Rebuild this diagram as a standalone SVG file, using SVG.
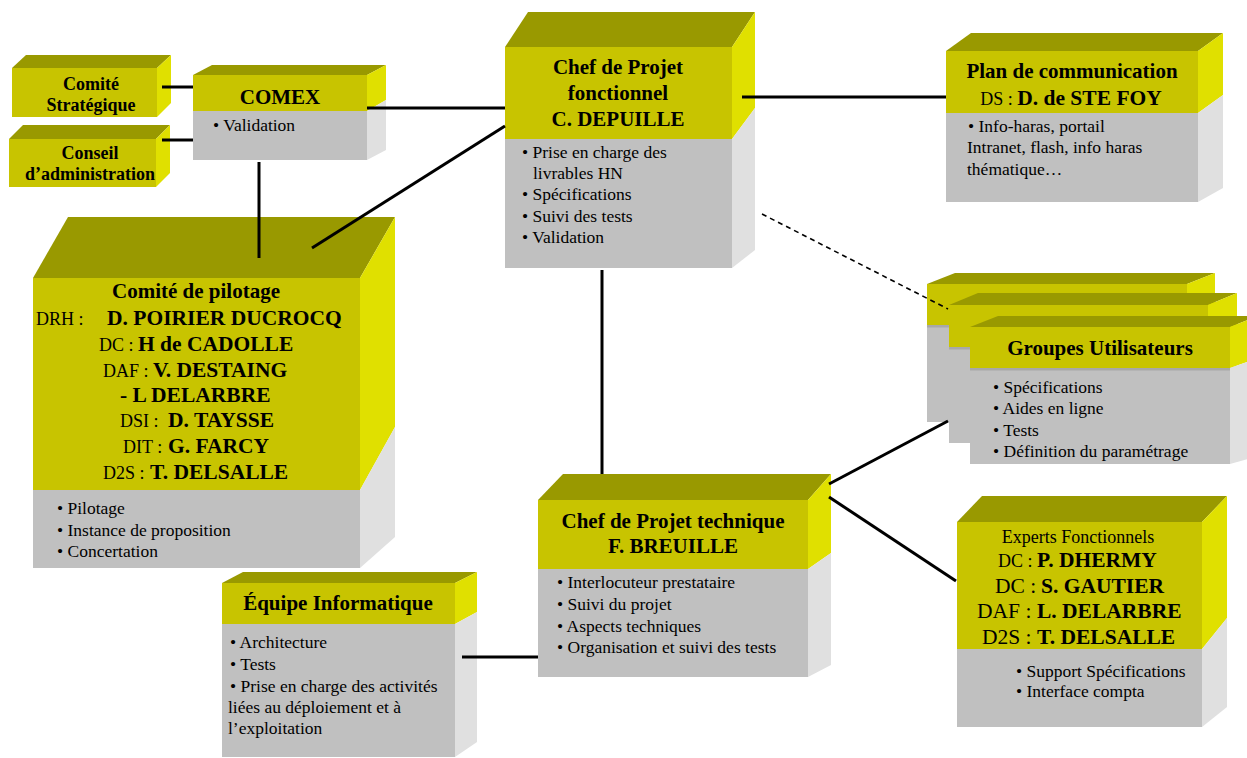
<svg xmlns="http://www.w3.org/2000/svg" width="1247" height="758" viewBox="0 0 1247 758">
  <style>
    .top { fill: #999900; }
    .fy { fill: #C8C400; }
    .sy { fill: #E0E000; }
    .fg { fill: #C0C0C0; }
    .sg { fill: #E0E0E0; }
    .shade { fill: #A8A8A8; }
    text { font-family: "Liberation Serif", "Times New Roman", serif; fill: #000; }
    .t18 { font-size: 18px; font-weight: bold; }
    .t21 { font-size: 21px; font-weight: bold; }
    .body { font-size: 17.5px; }
    .pre { font-size: 18px; font-weight: normal; }
    .pre2 { font-size: 21.5px; font-weight: normal; }
    .nm { font-size: 21.5px; font-weight: bold; }
    .mid { text-anchor: middle; }
    .link { stroke: #000; stroke-width: 3; fill: none; }
    .dash { stroke: #000; stroke-width: 1.6; stroke-dasharray: 5 4; fill: none; }
  </style>
  <rect width="1247" height="758" fill="#fff"/>

  <!-- Comité Stratégique -->
  <g id="comite-strategique">
    <polygon class="top" points="12,68 26,55 171,55 157,68"/>
    <polygon class="sy" points="157,68 171,55 171,103 157,117"/>
    <rect class="fy" x="12" y="68" width="145" height="49"/>
    <text class="t18 mid" x="91" y="90">Comité</text>
    <text class="t18 mid" x="91" y="111">Stratégique</text>
  </g>

  <!-- Conseil d'administration -->
  <g id="conseil-administration">
    <polygon class="top" points="9,139 23,125 170,125 156,139"/>
    <polygon class="sy" points="156,139 170,125 170,173 156,187"/>
    <rect class="fy" x="9" y="139" width="147" height="48"/>
    <text class="t18 mid" x="90" y="159">Conseil</text>
    <text class="t18 mid" x="90" y="180">d’administration</text>
  </g>

  <!-- COMEX -->
  <g id="comex">
    <polygon class="top" points="193,75 212,65 386,65 367,75"/>
    <polygon class="sy" points="367,75 386,65 386,100 367,111"/>
    <polygon class="sg" points="367,111 386,100 386,150 367,160"/>
    <rect class="fy" x="193" y="75" width="174" height="36"/>
    <rect class="fg" x="193" y="111" width="174" height="49"/>
    <text class="t21 mid" x="280" y="104">COMEX</text>
    <text class="body" x="213" y="131">• Validation</text>
  </g>

  <!-- Chef de Projet fonctionnel -->
  <g id="chef-projet-fonctionnel">
    <polygon class="top" points="505,47 528,12 755,12 732,47"/>
    <polygon class="sy" points="732,47 755,12 755,108 732,139"/>
    <polygon class="sg" points="732,139 755,108 755,250 732,268"/>
    <rect class="fy" x="505" y="47" width="227" height="92"/>
    <rect class="fg" x="505" y="139" width="227" height="129"/>
    <text class="t21 mid" x="618" y="74">Chef de Projet</text>
    <text class="t21 mid" x="618" y="100">fonctionnel</text>
    <text class="t21 mid" x="618" y="126">C. DEPUILLE</text>
    <text class="body" x="522" y="158">• Prise en charge des</text>
    <text class="body" x="533" y="179">livrables HN</text>
    <text class="body" x="522" y="200">• Spécifications</text>
    <text class="body" x="522" y="222">• Suivi des tests</text>
    <text class="body" x="522" y="243">• Validation</text>
  </g>

  <!-- Plan de communication -->
  <g id="plan-communication">
    <polygon class="top" points="946,51 971,33 1223,33 1198,51"/>
    <polygon class="sy" points="1198,51 1223,33 1223,95 1198,113"/>
    <polygon class="sg" points="1198,113 1223,95 1223,188 1198,202"/>
    <rect class="fy" x="946" y="51" width="252" height="62"/>
    <rect class="fg" x="946" y="113" width="252" height="89"/>
    <text class="t21 mid" x="1072" y="78">Plan de communication</text>
    <text class="mid" x="1071" y="105"><tspan class="pre">DS : </tspan><tspan class="nm">D. de STE FOY</tspan></text>
    <text class="body" x="968" y="132">• Info-haras, portail</text>
    <text class="body" x="967" y="153">Intranet, flash, info haras</text>
    <text class="body" x="967" y="175">thématique…</text>
  </g>

  <!-- Groupes Utilisateurs (stack of three) -->
  <g id="groupes-utilisateurs">
    <polygon class="top" points="927,284 955,273 1215,273 1187,284"/>
    <polygon class="sy" points="1187,284 1215,273 1215,315 1187,325"/>
    <polygon class="sg" points="1187,325 1215,315 1215,414 1187,422"/>
    <rect class="fy" x="927" y="284" width="260" height="41"/>
    <rect class="fg" x="927" y="325" width="260" height="97"/>
    <rect class="shade" x="927" y="325" width="260" height="2.5"/>

    <polygon class="top" points="949,305 978,293 1237,293 1208,305"/>
    <polygon class="sy" points="1208,305 1237,293 1237,337 1208,347"/>
    <polygon class="sg" points="1208,347 1237,337 1237,435 1208,443"/>
    <rect class="fy" x="949" y="305" width="259" height="42"/>
    <rect class="fg" x="949" y="347" width="259" height="96"/>
    <rect class="shade" x="949" y="347" width="259" height="2.5"/>

    <polygon class="top" points="970,327 998,316 1258,316 1230,327"/>
    <polygon class="sy" points="1230,327 1258,316 1258,358 1230,368"/>
    <polygon class="sg" points="1230,368 1258,358 1258,456 1230,464"/>
    <rect class="fy" x="970" y="327" width="260" height="41"/>
    <rect class="fg" x="970" y="368" width="260" height="96"/>
    <rect class="shade" x="970" y="368" width="260" height="2.5"/>
    <text class="t21 mid" x="1100" y="355">Groupes Utilisateurs</text>
    <text class="body" x="993" y="393">• Spécifications</text>
    <text class="body" x="993" y="414">• Aides en ligne</text>
    <text class="body" x="993" y="436">• Tests</text>
    <text class="body" x="993" y="457">• Définition du paramétrage</text>
  </g>

  <!-- Comité de pilotage -->
  <g id="comite-pilotage">
    <polygon class="top" points="33,278 68,217 395,217 360,278"/>
    <polygon class="sy" points="360,278 395,217 395,427 360,490"/>
    <polygon class="sg" points="360,490 395,427 395,537 360,568"/>
    <rect class="fy" x="33" y="278" width="327" height="212"/>
    <rect class="fg" x="33" y="490" width="327" height="78"/>
    <text class="t21 mid" x="196" y="298">Comité de pilotage</text>
    <text class="pre" x="36" y="325">DRH :</text><text class="nm" x="107" y="325">D. POIRIER DUCROCQ</text>
    <text class="pre" x="99" y="351">DC :</text><text class="nm" x="138" y="351">H de CADOLLE</text>
    <text class="pre" x="103" y="377">DAF :</text><text class="nm" x="153" y="377">V. DESTAING</text>
    <text class="nm" x="120" y="402">- L DELARBRE</text>
    <text class="pre" x="120" y="427">DSI :</text><text class="nm" x="168" y="427">D. TAYSSE</text>
    <text class="pre" x="123" y="453">DIT :</text><text class="nm" x="168" y="453">G. FARCY</text>
    <text class="pre" x="103" y="479">D2S :</text><text class="nm" x="150" y="479">T. DELSALLE</text>
    <text class="body" x="57" y="514">• Pilotage</text>
    <text class="body" x="57" y="536">• Instance de proposition</text>
    <text class="body" x="57" y="557">• Concertation</text>
  </g>

  <!-- Chef de Projet technique -->
  <g id="chef-projet-technique">
    <polygon class="top" points="538,500 563,474 831,474 808,500"/>
    <polygon class="sy" points="808,500 831,474 831,553 808,569"/>
    <polygon class="sg" points="808,569 831,553 831,665 808,677"/>
    <rect class="fy" x="538" y="500" width="270" height="69"/>
    <rect class="fg" x="538" y="569" width="270" height="108"/>
    <text class="t21 mid" x="673" y="528">Chef de Projet technique</text>
    <text class="t21 mid" x="673" y="553">F. BREUILLE</text>
    <text class="body" x="557" y="588">• Interlocuteur prestataire</text>
    <text class="body" x="557" y="610">• Suivi du projet</text>
    <text class="body" x="557" y="632">• Aspects techniques</text>
    <text class="body" x="557" y="653">• Organisation et suivi des tests</text>
  </g>

  <!-- Équipe Informatique -->
  <g id="equipe-informatique">
    <polygon class="top" points="222,583 243,572 477,572 455,583"/>
    <polygon class="sy" points="455,583 477,572 477,612 455,624"/>
    <polygon class="sg" points="455,624 477,612 477,742 455,757"/>
    <rect class="fy" x="222" y="583" width="233" height="41"/>
    <rect class="fg" x="222" y="624" width="233" height="133"/>
    <text class="t21 mid" x="338" y="610">Équipe Informatique</text>
    <text class="body" x="230" y="648">• Architecture</text>
    <text class="body" x="230" y="670">• Tests</text>
    <text class="body" x="230" y="692">• Prise en charge des activités</text>
    <text class="body" x="228" y="713">liées au déploiement et à</text>
    <text class="body" x="228" y="734">l’exploitation</text>
  </g>

  <!-- Experts Fonctionnels -->
  <g id="experts-fonctionnels">
    <polygon class="top" points="957,522 982,496 1227,496 1202,522"/>
    <polygon class="sy" points="1202,522 1227,496 1227,618 1202,649"/>
    <polygon class="sg" points="1202,649 1227,618 1227,707 1202,727"/>
    <rect class="fy" x="957" y="522" width="245" height="127"/>
    <rect class="fg" x="957" y="649" width="245" height="78"/>
    <text class="pre mid" x="1078" y="543">Experts Fonctionnels</text>
    <text class="pre" x="998" y="567">DC :</text><text class="nm" x="1037" y="567">P. DHERMY</text>
    <text class="pre2" x="995" y="593">DC :</text><text class="nm" x="1041" y="593">S. GAUTIER</text>
    <text class="pre2" x="977" y="618">DAF :</text><text class="nm" x="1037" y="618">L. DELARBRE</text>
    <text class="pre2" x="982" y="644">D2S :</text><text class="nm" x="1037" y="644">T. DELSALLE</text>
    <text class="body" x="1016" y="677">• Support Spécifications</text>
    <text class="body" x="1016" y="697">• Interface compta</text>
  </g>

  <!-- Connectors -->
  <g id="connectors">
    <line class="link" x1="162" y1="87" x2="193" y2="87"/>
    <line class="link" x1="162" y1="140" x2="193" y2="140"/>
    <line class="link" x1="367" y1="108" x2="505" y2="108"/>
    <line class="link" x1="259" y1="162" x2="259" y2="258"/>
    <line class="link" x1="505" y1="126" x2="312" y2="248"/>
    <line class="link" x1="742" y1="97" x2="946" y2="97"/>
    <line class="dash" x1="762" y1="214" x2="948" y2="309"/>
    <line class="link" x1="602" y1="270" x2="602" y2="474"/>
    <line class="link" x1="829" y1="484" x2="948" y2="421"/>
    <line class="link" x1="829" y1="497" x2="956" y2="581"/>
    <line class="link" x1="462" y1="657" x2="538" y2="657"/>
  </g>
</svg>
